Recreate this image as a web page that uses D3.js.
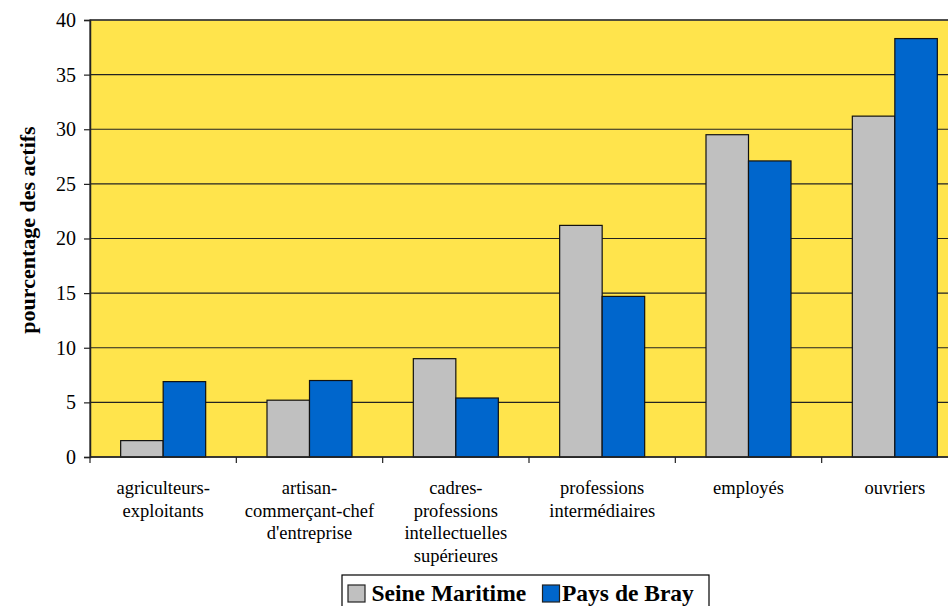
<!DOCTYPE html>
<html>
<head>
<meta charset="utf-8">
<script src="https://cdn.jsdelivr.net/npm/d3@7"></script>
<style>
body { margin:0; background:#fff; }
</style>
</head>
<body>
<script>
// categories (label lines) and the two series
var categories = [
	["agriculteurs-", "exploitants"],
	["artisan-", "commerçant-chef", "d'entreprise"],
	["cadres-", "professions", "intellectuelles", "supérieures"],
	["professions", "intermédiaires"],
	["employés"],
	["ouvriers"]
];
var seineMaritime = [1.5, 5.2, 9.0, 21.2, 29.5, 31.2];
var paysDeBray   = [6.9, 7.0, 5.4, 14.7, 27.1, 38.3];
var seriesNames  = ["Seine Maritime", "Pays de Bray"];
var seriesColors = ["#c0c0c0", "#0066cc"];
var yTicks = [0, 5, 10, 15, 20, 25, 30, 35, 40];

var font = "Liberation Serif";
var svgW = 948, svgH = 606;
var m = {l:90, t:20, r:-20, b:149};
var w = svgW - m.l - m.r, h = svgH - m.t - m.b;

var svg = d3.select("body").append("svg").attr("width", svgW).attr("height", svgH)
	.attr("font-family", font);
var g = svg.append("g").attr("transform", "translate(" + m.l + "," + m.t + ")");

var x = d3.scaleBand().domain(d3.range(categories.length)).range([0, w]);
var x1 = d3.scaleBand().domain([0, 1]).range([0, 85]);
var y = d3.scaleLinear().domain([0, 40]).range([h, 0]);

// plot background
g.append("rect").attr("width", w).attr("height", h).attr("fill", "#ffe44c")
	.attr("stroke", "#555").attr("stroke-width", 1.5);

// gridlines
g.append("g").selectAll("line").data(yTicks.slice(1)).enter().append("line")
	.attr("x1", 0).attr("x2", w)
	.attr("y1", function(d){ return y(d); }).attr("y2", function(d){ return y(d); })
	.attr("stroke", "#222").attr("stroke-width", 1.2);

// bars
var rows = categories.map(function(c, i){ return [seineMaritime[i], paysDeBray[i]]; });
var groups = g.append("g").selectAll("g").data(rows).enter().append("g")
	.attr("transform", function(d, i){ return "translate(" + (x(i) + (x.bandwidth() - 85) / 2) + ",0)"; });
groups.selectAll("rect").data(function(d){ return d; }).enter().append("rect")
	.attr("x", function(d, j){ return x1(j); })
	.attr("y", function(d){ return y(d); })
	.attr("width", x1.bandwidth())
	.attr("height", function(d){ return h - y(d); })
	.attr("fill", function(d, j){ return seriesColors[j]; })
	.attr("stroke", "#111").attr("stroke-width", 1.2);

// y axis
var yAxis = g.append("g").call(d3.axisLeft(y).tickValues(yTicks).tickSize(6).tickPadding(8));
yAxis.attr("font-family", font);
yAxis.select(".domain").attr("stroke", "#222").attr("stroke-width", 1.5);
yAxis.selectAll(".tick line").attr("stroke", "#222").attr("stroke-width", 1.2);
yAxis.selectAll("text").style("font-size", "20px").style("font-family", font).attr("fill", "#000");

// x axis
var xAxis = g.append("g").attr("transform", "translate(0," + h + ")");
xAxis.append("line").attr("x1", 0).attr("x2", w).attr("stroke", "#222").attr("stroke-width", 1.5);
xAxis.selectAll(".tk").data(d3.range(categories.length + 1)).enter().append("line")
	.attr("x1", function(i){ return i * x.step(); }).attr("x2", function(i){ return i * x.step(); })
	.attr("y1", 0).attr("y2", 6).attr("stroke", "#222").attr("stroke-width", 1.2);
xAxis.selectAll(".lbl").data(categories).enter().append("text")
	.attr("text-anchor", "middle").style("font-size", "18.5px").style("font-family", font)
	.attr("transform", function(d, i){ return "translate(" + (x(i) + x.bandwidth() / 2) + ",37)"; })
	.selectAll("tspan").data(function(d){ return d; }).enter().append("tspan")
	.attr("x", 0).attr("dy", function(d, k){ return k ? 22.5 : 0; })
	.text(function(d){ return d; });

// y title
svg.append("text").attr("transform", "translate(35,230) rotate(-90)")
	.attr("text-anchor", "middle").style("font-size", "22px").style("font-weight", "bold")
	.style("font-family", font)
	.text("pourcentage des actifs");

// legend
var lg = svg.append("g").attr("transform", "translate(342,575)");
lg.append("rect").attr("width", 367).attr("height", 40).attr("fill", "#fff")
	.attr("stroke", "#000").attr("stroke-width", 1.2);
var items = lg.selectAll(".it").data(seriesNames).enter().append("g")
	.attr("transform", function(d, i){ return "translate(" + (i ? 200.5 : 6) + ",0)"; });
items.append("rect").attr("x", 0).attr("y", 10).attr("width", 17).attr("height", 17)
	.attr("fill", function(d, i){ return seriesColors[i]; }).attr("stroke", "#222").attr("stroke-width", 1.2);
items.append("text").attr("x", function(d, i){ return i ? 19.5 : 23.5; }).attr("y", 26)
	.style("font-size", "23.5px").style("font-weight", "bold")
	.style("font-family", font)
	.text(function(d){ return d; });
</script>
</body>
</html>
